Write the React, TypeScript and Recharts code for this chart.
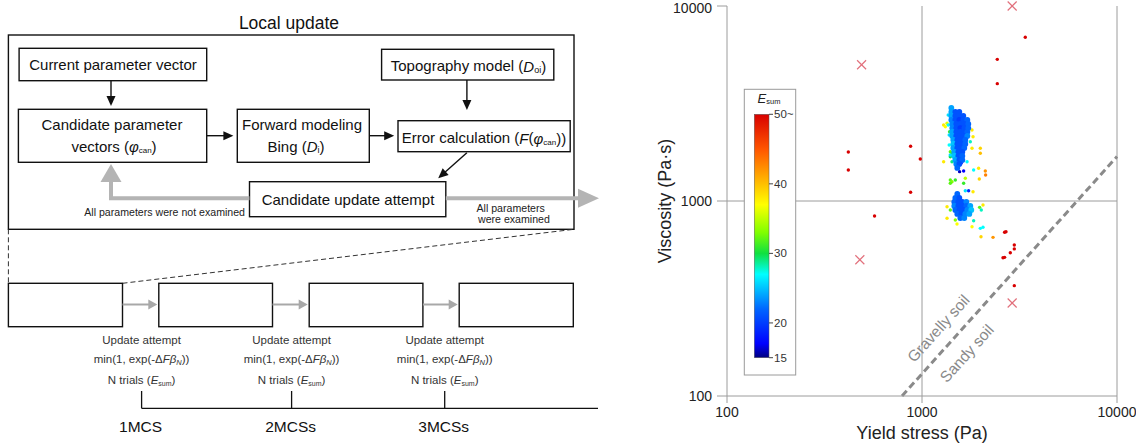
import React from "react";
import { ScatterChart, Scatter, XAxis, YAxis, ReferenceLine } from "recharts";

const FONT = "'Liberation Sans', Arial, Helvetica, sans-serif";

const X_TICKS = [100, 1000, 10000];
const Y_TICKS = [100, 1000, 10000];
const ESUM_TICKS = [50, 40, 30, 20, 15];
const ESUM_LABELS = ["50~", "40", "30", "20", "15"];

// [yield stress (Pa), viscosity (Pa·s), Esum]
const upperCore = [
  [1414, 2999, 24],
  [1414, 2860, 24], [1482, 2860, 21], [1554, 2860, 21],
  [1414, 2728, 24], [1482, 2728, 21], [1554, 2728, 21], [1629, 2728, 21],
  [1414, 2603, 23], [1482, 2603, 21], [1554, 2603, 20], [1629, 2603, 21], [1708, 2603, 22],
  [1430, 2482, 23], [1499, 2482, 21], [1572, 2482, 21], [1648, 2482, 21], [1728, 2482, 22],
  [1430, 2367, 23], [1499, 2367, 21], [1572, 2367, 20], [1648, 2367, 21], [1728, 2367, 22],
  [1430, 2258, 24], [1499, 2258, 21], [1572, 2258, 21], [1648, 2258, 21], [1708, 2258, 22],
  [1430, 2154, 24], [1499, 2154, 21], [1572, 2154, 21], [1648, 2154, 21], [1708, 2154, 23],
  [1447, 2055, 24], [1517, 2055, 21], [1591, 2055, 21], [1668, 2055, 22],
  [1447, 1960, 25], [1517, 1960, 21], [1591, 1960, 21], [1668, 1960, 22],
  [1447, 1870, 24], [1517, 1870, 21], [1591, 1870, 21], [1648, 1870, 22],
  [1464, 1784, 24], [1536, 1784, 21], [1610, 1784, 21],
  [1464, 1701, 25], [1536, 1701, 21], [1610, 1701, 22],
  [1482, 1623, 24], [1554, 1623, 21], [1610, 1623, 22],
  [1499, 1548, 23], [1554, 1548, 21],
  [1517, 1477, 22],
];

const lowerCore = [
  [1517, 1086, 22],
  [1482, 1036, 22], [1554, 1036, 21],
  [1464, 988, 22], [1536, 988, 21], [1610, 988, 21], [1688, 988, 23],
  [1464, 943, 23], [1536, 943, 21], [1610, 943, 21], [1688, 943, 22], [1769, 943, 24],
  [1482, 899, 22], [1554, 899, 21], [1629, 899, 21], [1708, 899, 23], [1790, 899, 25],
  [1517, 858, 22], [1591, 858, 21], [1668, 858, 23], [1749, 858, 24],
  [1572, 818, 22], [1648, 818, 23],
];

const edgePoints = [
  [1364, 2761, 26], [1364, 2453, 27], [1380, 2180, 26], [1380, 1938, 27], [1397, 1721, 26],
];

const scatteredPoints = [
  [1291, 2453, 38], [1344, 2503, 36], [1317, 2404, 37], [1385, 2267, 31],
  [1397, 1790, 32], [1425, 1756, 31], [1397, 1687, 30], [1291, 1590, 38],
  [1425, 1590, 29], [1805, 2312, 38], [1827, 2136, 38], [1769, 2014, 28],
  [1805, 1863, 38], [1991, 1863, 39], [1991, 1756, 40], [1702, 1590, 27],
  [1635, 1425, 17], [1559, 1414, 16], [1585, 1561, 17], [1951, 1472, 38],
  [1840, 1442, 27], [2112, 1425, 42], [2119, 1359, 43], [1967, 1297, 39],
  [1397, 1282, 32], [1425, 1256, 33], [1482, 1282, 31], [1668, 1308, 35],
  [1397, 1233, 32], [1635, 1233, 31], [1734, 1129, 19], [1827, 1116, 38],
  [1668, 1129, 26],
  [1344, 935, 38], [1344, 815, 38], [1397, 899, 32], [1482, 799, 33],
  [1512, 762, 37], [1974, 928, 32], [2014, 899, 28], [2055, 954, 38],
  [1840, 792, 28], [1805, 738, 37], [1991, 724, 27], [2055, 733, 27],
  [2007, 656, 39], [2313, 651, 42],
];

const highErrorPoints = [
  [3386, 6910, 50], [2433, 5326, 50], [2433, 3998, 50], [419, 1783, 50],
  [419, 1442, 50], [874, 1908, 50], [980, 1642, 50], [874, 1109, 50],
  [571, 838, 50], [2652, 691, 50], [2696, 696, 50], [2974, 595, 50],
  [2974, 568, 50], [2837, 543, 50], [2652, 514, 50], [2603, 512, 50],
  [2974, 368, 50],
];

const crossPoints = [
  [2900, 10000], [490, 5000], [480, 500], [2900, 300],
];

const soilBoundary = [
  { x: 790, y: 100 },
  { x: 10000, y: 1690 },
];

// jet-like colour scale used for Esum
const CMAP: [number, string][] = [
  [15, "#00007f"], [17, "#0000ff"], [22, "#0066ff"], [27, "#00ffff"],
  [30, "#10e040"], [33, "#80ff00"], [37, "#ffff00"], [41, "#ffaa00"],
  [45, "#ff5500"], [50, "#d80000"],
];

function hexToRgb(h: string) {
  return [1, 3, 5].map((i) => parseInt(h.slice(i, i + 2), 16));
}

function esumColor(e: number) {
  if (e <= CMAP[0][0]) return CMAP[0][1];
  for (let i = 1; i < CMAP.length; i++) {
    const [v1, c1] = CMAP[i];
    const [v0, c0] = CMAP[i - 1];
    if (e <= v1) {
      const t = (e - v0) / (v1 - v0);
      const a = hexToRgb(c0);
      const b = hexToRgb(c1);
      const c = a.map((av, k) => Math.round(av + (b[k] - av) * t));
      return `rgb(${c[0]},${c[1]},${c[2]})`;
    }
  }
  return CMAP[CMAP.length - 1][1];
}

const toPts = (rows: number[][]) => rows.map(([x, y, e]) => ({ x, y, e }));

const dot = (r: number) => (p: any) => (
  <circle cx={p.cx} cy={p.cy} r={r} fill={esumColor(p.payload.e)} />
);

const cross = (p: any) => {
  const s = 4.5;
  return (
    <g stroke="#e2707c" strokeWidth={1.2}>
      <line x1={p.cx - s} y1={p.cy - s} x2={p.cx + s} y2={p.cy + s} />
      <line x1={p.cx - s} y1={p.cy + s} x2={p.cx + s} y2={p.cy - s} />
    </g>
  );
};

function Arrow({ x1, y1, x2, y2, color = "#111", width = 1.4, len = 10, half = 4.5 }: any) {
  const dx = x2 - x1;
  const dy = y2 - y1;
  const L = Math.hypot(dx, dy);
  const ux = dx / L;
  const uy = dy / L;
  const bx = x2 - ux * len;
  const by = y2 - uy * len;
  const px = -uy * half;
  const py = ux * half;
  return (
    <g>
      <line x1={x1} y1={y1} x2={bx + ux * 1} y2={by + uy * 1} stroke={color} strokeWidth={width} />
      <polygon points={`${x2},${y2} ${bx + px},${by + py} ${bx - px},${by - py}`} fill={color} />
    </g>
  );
}

function Box({ x1, y1, x2, y2 }: any) {
  return <rect x={x1} y={y1} width={x2 - x1} height={y2 - y1} fill="none" stroke="#111" strokeWidth={1.4} />;
}

function Flowchart() {
  const t = { fontFamily: FONT, fill: "#111", dominantBaseline: "central" as const, textAnchor: "middle" as const };
  const small = { fontFamily: FONT, fill: "#333", dominantBaseline: "central" as const, textAnchor: "middle" as const, fontSize: 11.5 };
  const updateX = [141.6, 291.6, 444.7];
  const stepBoxes = [[8.4, 122.5], [158.8, 272.5], [309.2, 422.9], [459.2, 573.3]];
  const mcs = ["1MCS", "2MCSs", "3MCSs"];
  return (
    <g>
      <text x={289} y={23} fontSize={17.5} {...t}>Local update</text>
      <Box x1={8.4} y1={35} x2={574} y2={229.3} />

      <Box x1={19.1} y1={48.3} x2={206.7} y2={80.7} />
      <text x={113} y={64.5} fontSize={15} {...t}>Current parameter vector</text>

      <Box x1={381.6} y1={49.3} x2={553.8} y2={80} />
      <text x={468.5} y={65.5} fontSize={15} {...t}>
        Topography model (<tspan fontStyle="italic">D</tspan>
        <tspan fontSize={9} dy={4}>oi</tspan>
        <tspan dy={-4}>)</tspan>
      </text>

      <Box x1={18.4} y1={109.3} x2={206.7} y2={162.3} />
      <text x={112} y={124.5} fontSize={15} {...t}>Candidate parameter</text>
      <text x={114} y={146} fontSize={15} {...t}>
        vectors (<tspan fontStyle="italic">φ</tspan>
        <tspan fontSize={8} dy={4}>can</tspan>
        <tspan dy={-4}>)</tspan>
      </text>

      <Box x1={237.3} y1={109.3} x2={369.3} y2={162.3} />
      <text x={302} y={124.5} fontSize={15} {...t}>Forward modeling</text>
      <text x={296} y={146} fontSize={15} {...t}>
        Bing (<tspan fontStyle="italic">D</tspan>
        <tspan fontSize={9} dy={4}>i</tspan>
        <tspan dy={-4}>)</tspan>
      </text>

      <Box x1={398} y1={120.7} x2={570.2} y2={151.7} />
      <text x={484} y={137.5} fontSize={15} {...t}>
        Error calculation (<tspan fontStyle="italic">F</tspan>(<tspan fontStyle="italic">φ</tspan>
        <tspan fontSize={8} dy={4}>can</tspan>
        <tspan dy={-4}>))</tspan>
      </text>

      <Box x1={249.5} y1={181.7} x2={445.8} y2={216.7} />
      <text x={348} y={199.5} fontSize={15} {...t}>Candidate update attempt</text>

      <Arrow x1={111} y1={80.7} x2={111} y2={106} />
      <Arrow x1={466.9} y1={80} x2={466.9} y2={110} />
      <Arrow x1={206.7} y1={135.7} x2={233.4} y2={135.7} />
      <Arrow x1={369.3} y1={135.7} x2={394.2} y2={135.7} />
      <Arrow x1={466.9} y1={152.7} x2={438.2} y2={178.3} />

      <polyline points="249.5,198.3 111,198.3 111,181" fill="none" stroke="#b4b4b4" strokeWidth={4} />
      <polygon points="111,164 100.5,182 121.5,182" fill="#b4b4b4" />
      <line x1={445.8} y1={198.3} x2={580} y2={198.3} stroke="#b4b4b4" strokeWidth={4} />
      <polygon points="599,198.3 578,188.8 578,207.8" fill="#b4b4b4" />

      <text x={245} y={212} fontSize={10.6} fontFamily={FONT} fill="#222" textAnchor="end" dominantBaseline="central">
        All parameters were not examined
      </text>
      <text x={476.5} y={207.7} fontSize={10.6} fontFamily={FONT} fill="#222" dominantBaseline="central">All parameters</text>
      <text x={478} y={218.6} fontSize={10.6} fontFamily={FONT} fill="#222" dominantBaseline="central">were examined</text>

      <line x1={8.4} y1={229.3} x2={8.4} y2={283.3} stroke="#333" strokeWidth={1} strokeDasharray="5 3" />
      <line x1={122.5} y1={283.3} x2={574} y2={229.3} stroke="#333" strokeWidth={1} strokeDasharray="5 3" />

      {stepBoxes.map(([a, b], i) => (
        <Box key={i} x1={a} y1={283.3} x2={b} y2={326.7} />
      ))}
      {stepBoxes.slice(0, 3).map(([, b], i) => (
        <Arrow key={i} x1={b} y1={304.5} x2={stepBoxes[i + 1][0] - 1.5} y2={304.5} color="#a8a8a8" width={2} len={9} half={5} />
      ))}

      {updateX.map((x, i) => (
        <g key={i}>
          <text x={x} y={339.5} {...small}>Update attempt</text>
          <text x={x} y={358.5} {...small}>
            min(1, exp(-Δ<tspan fontStyle="italic">Fβ</tspan>
            <tspan fontSize={7.5} fontStyle="italic" dy={3}>N</tspan>
            <tspan dy={-3}>))</tspan>
          </text>
          <text x={x} y={380} {...small}>
            N trials (<tspan fontStyle="italic">E</tspan>
            <tspan fontSize={7} dy={3}>sum</tspan>
            <tspan dy={-3}>)</tspan>
          </text>
          <line x1={x} y1={391} x2={x} y2={408.3} stroke="#111" strokeWidth={1.3} />
          <text x={x - 1} y={426.7} fontSize={15.5} {...t}>{mcs[i]}</text>
        </g>
      ))}
      <line x1={updateX[0]} y1={408.3} x2={598} y2={408.3} stroke="#111" strokeWidth={1.3} />
    </g>
  );
}

function Colorbar() {
  const top = 114.3;
  const bottom = 357.7;
  const yOf = (v: number) => top + ((50 - v) / 35) * (bottom - top);
  return (
    <g fontFamily={FONT}>
      <defs>
        <linearGradient id="esumGrad" x1="0" y1="0" x2="0" y2="1">
          {CMAP.slice().reverse().map(([v, c]) => (
            <stop key={v} offset={(50 - v) / 35} stopColor={c} />
          ))}
        </linearGradient>
      </defs>
      <rect x={744.3} y={89.3} width={51.4} height={285.7} fill="#fff" stroke="#9a9a9a" strokeWidth={1} />
      <text x={769} y={98} fontSize={13} fill="#222" textAnchor="middle" dominantBaseline="central">
        <tspan fontStyle="italic">E</tspan>
        <tspan fontSize={7.5} dy={3}>sum</tspan>
      </text>
      <rect x={754.3} y={top} width={14.7} height={bottom - top} fill="url(#esumGrad)" stroke="#555" strokeWidth={0.5} />
      {ESUM_TICKS.map((v, i) => (
        <g key={v}>
          <line x1={769} y1={yOf(v)} x2={773} y2={yOf(v)} stroke="#444" strokeWidth={1} />
          <text x={774} y={yOf(v)} fontSize={11.5} fill="#333" dominantBaseline="central">{ESUM_LABELS[i]}</text>
        </g>
      ))}
    </g>
  );
}

function SoilLabels() {
  return (
    <g fontFamily={FONT} fontSize={15.5} fill="#8a8a8a" textAnchor="middle" dominantBaseline="central">
      <text transform="translate(938.3,328.3) rotate(-48)">Gravelly soil</text>
      <text transform="translate(966.7,353.3) rotate(-48)">Sandy soil</text>
    </g>
  );
}

export default function App() {
  const axisStroke = "#9c9c9c";
  return (
    <div style={{ position: "absolute", left: 0, top: 0, width: 1136, height: 445, background: "#fff", overflow: "hidden" }}>
      <div style={{ position: "absolute", left: 640, top: 0 }}>
        <ScatterChart width={496} height={445} margin={{ top: 6, right: 19, bottom: 0, left: 0 }}>
          <XAxis
            type="number"
            dataKey="x"
            scale="log"
            domain={[100, 10000]}
            ticks={X_TICKS}
            height={49}
            tickSize={7}
            tickMargin={4}
            stroke={axisStroke}
            tick={{ fontSize: 14, fill: "#222", fontFamily: FONT }}
            label={{ value: "Yield stress (Pa)", position: "insideBottom", offset: 6, fontSize: 18, fill: "#222", fontFamily: FONT }}
          />
          <YAxis
            type="number"
            dataKey="y"
            scale="log"
            domain={[100, 10000]}
            ticks={Y_TICKS}
            width={87}
            tickSize={10}
            tickMargin={5}
            stroke={axisStroke}
            tick={{ fontSize: 14, fill: "#222", fontFamily: FONT }}
            label={{ value: "Viscosity (Pa·s)", angle: -90, position: "insideLeft", offset: 25, fontSize: 18, fill: "#222", fontFamily: FONT, style: { textAnchor: "middle" } }}
          />
          <ReferenceLine x={1000} stroke={axisStroke} />
          <ReferenceLine x={10000} stroke={axisStroke} />
          <ReferenceLine y={1000} stroke={axisStroke} />
          <ReferenceLine segment={soilBoundary} stroke="#8a8a8a" strokeWidth={3} strokeDasharray="7 4" />
          <Scatter data={toPts(scatteredPoints)} shape={dot(1.7)} isAnimationActive={false} />
          <Scatter data={toPts(edgePoints)} shape={dot(1.8)} isAnimationActive={false} />
          <Scatter data={toPts(upperCore)} shape={dot(2.9)} isAnimationActive={false} />
          <Scatter data={toPts(lowerCore)} shape={dot(2.9)} isAnimationActive={false} />
          <Scatter data={toPts(highErrorPoints)} shape={dot(1.7)} isAnimationActive={false} />
          <Scatter data={crossPoints.map(([x, y]) => ({ x, y }))} shape={cross} isAnimationActive={false} />
        </ScatterChart>
      </div>
      <svg width={1136} height={445} style={{ position: "absolute", left: 0, top: 0, pointerEvents: "none" }}>
        <Flowchart />
        <Colorbar />
        <SoilLabels />
      </svg>
    </div>
  );
}
